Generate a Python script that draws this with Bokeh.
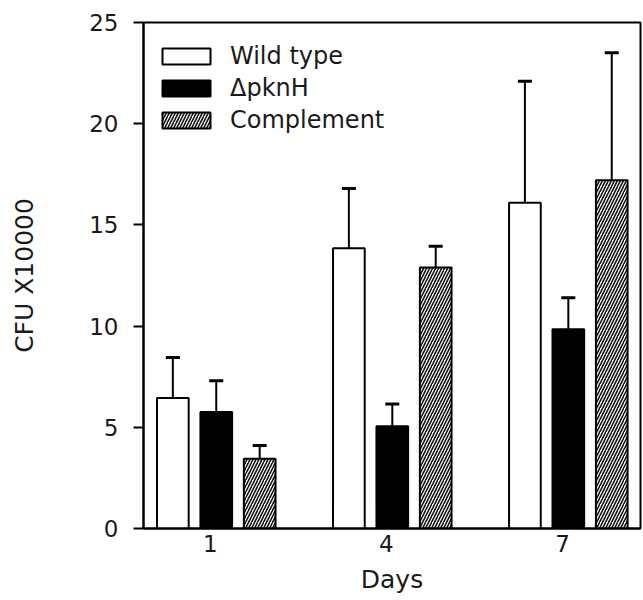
from bokeh.plotting import figure
from bokeh.models import ColumnDataSource, Whisker, TeeHead, Legend, LegendItem, FixedTicker, Range1d
from bokeh.embed import file_html
from bokeh.resources import INLINE

# ---- data ----
days = [1, 4, 7]
day_labels = ["1", "4", "7"]
series_names = ["Wild type", "\u0394pknH", "Complement"]
wild_type = [6.45, 13.85, 16.1]
wild_type_err = [2.0, 2.95, 6.0]
pknH = [5.75, 5.05, 9.85]
pknH_err = [1.55, 1.1, 1.55]
complement = [3.45, 12.9, 17.2]
complement_err = [0.65, 1.05, 6.3]
y_ticks = [0, 5, 10, 15, 20, 25]

FONT = "DejaVu Sans"
TXT = "#1a1a1a"

p = figure(width=642, height=600, output_backend="svg", toolbar_location=None,
           x_range=Range1d(-0.14, 8.33), y_range=Range1d(0, 25),
           min_border_left=143, min_border_right=2, min_border_top=22, min_border_bottom=72)
p.background_fill_color = "white"
p.border_fill_color = "white"
p.outline_line_color = "black"
p.outline_line_width = 2
p.xgrid.visible = False
p.ygrid.visible = False

shift = 0.1
offsets = [-0.74, 0.0, 0.74]
bar_w = 0.54
vals = [wild_type, pknH, complement]
errs = [wild_type_err, pknH_err, complement_err]
styles = [dict(fill_color="white"),
          dict(fill_color="black"),
          dict(fill_color="white", hatch_pattern="right_diagonal_line", hatch_color="#111111",
               hatch_scale=6, hatch_weight=1.6)]

renderers = []
for vs, es, off, st in zip(vals, errs, offsets, styles):
    xs = [d + shift + off for d in days]
    src = ColumnDataSource(dict(x=xs, top=vs, upper=[v + e for v, e in zip(vs, es)]))
    w = Whisker(source=src, base="x", lower="top", upper="upper", line_width=2, line_color="black",
                lower_head=None, upper_head=TeeHead(size=14, line_width=3, line_color="black"))
    p.add_layout(w)
    r = p.vbar(x="x", top="top", width=bar_w, bottom=0, source=src, line_color="black",
               line_width=2, **st)
    renderers.append(r)

legend = Legend(items=[LegendItem(label=n, renderers=[r]) for n, r in zip(series_names, renderers)],
                location=(13, 394), glyph_width=60, glyph_height=20, label_standoff=14,
                label_height=28, spacing=4, margin=0, padding=0,
                label_text_font=FONT, label_text_font_size="24px", label_text_color=TXT,
                border_line_alpha=0, background_fill_alpha=0)
p.add_layout(legend)

# axes
p.xaxis.ticker = FixedTicker(ticks=days)
p.xaxis.major_label_overrides = {d: l for d, l in zip(days, day_labels)}
p.xaxis.major_tick_out = 0
p.xaxis.major_tick_in = 0
p.xaxis.minor_tick_line_color = None
p.xaxis.axis_line_width = 2
p.xaxis.major_label_standoff = 6
p.xaxis.major_label_text_font = FONT
p.xaxis.major_label_text_font_size = "23px"
p.xaxis.major_label_text_color = TXT
p.xaxis.axis_label = "Days"
p.xaxis.axis_label_text_font = FONT
p.xaxis.axis_label_text_font_size = "25px"
p.xaxis.axis_label_text_font_style = "normal"
p.xaxis.axis_label_text_color = TXT
p.xaxis.axis_label_standoff = 10

p.yaxis.ticker = FixedTicker(ticks=y_ticks)
p.yaxis.major_tick_out = 10
p.yaxis.major_tick_in = 0
p.yaxis.major_tick_line_width = 2
p.yaxis.minor_tick_line_color = None
p.yaxis.axis_line_width = 2
p.yaxis.major_label_standoff = 15
p.yaxis.major_label_text_font = FONT
p.yaxis.major_label_text_font_size = "23px"
p.yaxis.major_label_text_color = TXT
p.yaxis.axis_label = "CFU X10000"
p.yaxis.axis_label_text_font = FONT
p.yaxis.axis_label_text_font_size = "25px"
p.yaxis.axis_label_text_font_style = "normal"
p.yaxis.axis_label_text_color = TXT
p.yaxis.axis_label_standoff = 47

open("out.html", "w").write(file_html(p, INLINE))
